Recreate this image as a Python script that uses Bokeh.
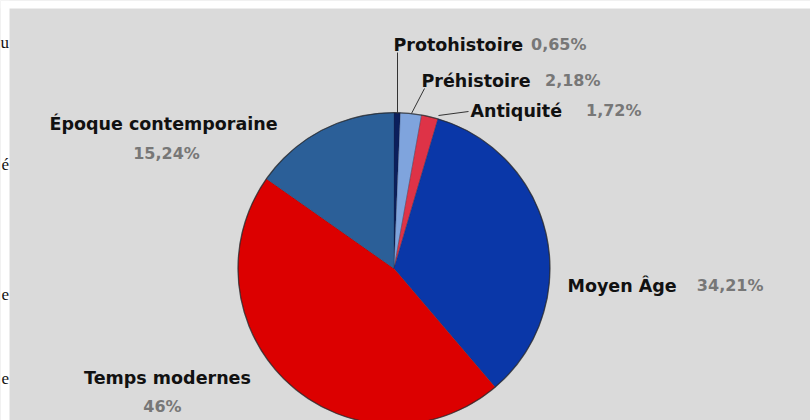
from bokeh.plotting import figure
from bokeh.models import Range1d, ColumnDataSource
from bokeh.core.properties import value
from bokeh.embed import file_html
from bokeh.resources import INLINE
import math

# ---- data ----
categories = ["Protohistoire", "Préhistoire", "Antiquité", "Moyen Âge", "Temps modernes", "Époque contemporaine"]
shares = [0.65, 2.18, 1.72, 34.21, 46.0, 15.24]
pct_labels = ["0,65%", "2,18%", "1,72%", "34,21%", "46%", "15,24%"]
colors = ["#0b1f5c", "#7fa4dd", "#de3347", "#0a37a8", "#dc0000", "#2b5f98"]

W, H = 810, 420
p = figure(width=W, height=H, output_backend="svg", toolbar_location=None,
           x_range=Range1d(0, W), y_range=Range1d(0, H), min_border=0)
p.axis.visible = False
p.grid.visible = False
p.outline_line_color = None
p.background_fill_color = "#dadada"
p.border_fill_color = "#dadada"

def Y(py):
    return H - py

# white page strips (left / top) as in the reference screenshot
p.quad(left=0, right=9, bottom=0, top=H, fill_color="white", line_color=None)
p.quad(left=0, right=W, bottom=Y(8), top=H, fill_color="white", line_color=None)
p.text(x=[8.5, 8.5, 8.5, 8.5], y=[Y(42), Y(164), Y(294), Y(378)], text=["u", "é", "e", "e"],
       text_font=value("Liberation Serif"), text_font_size="17px", text_color="#111111",
       text_align="right", text_baseline="middle")

cx, cy, r = 393.5, Y(268), 156
total = sum(shares)
starts, ends = [], []
cum = 0.0
for s in shares:
    a0 = math.pi / 2 - 2 * math.pi * cum / total
    cum += s
    a1 = math.pi / 2 - 2 * math.pi * cum / total
    starts.append(a0)
    ends.append(a1)

src = ColumnDataSource(dict(cat=categories, start=starts, end=ends, color=colors))
p.wedge(x=cx, y=cy, radius=r, start_angle="start", end_angle="end", direction="clock",
        fill_color="color", line_color="#1a2540", line_alpha=0.35, line_width=0.8, source=src)
p.circle(x=cx, y=cy, radius=r, fill_color=None, line_color="#2a2a2a", line_alpha=0.7, line_width=1.3)

# leader lines (page coordinates)
leaders = [((397, 52), (397, 113)), ((424, 88), (411, 113)), ((468, 111), (438, 115))]
for (x0, y0), (x1, y1) in leaders:
    p.line([x0, x1], [Y(y0), Y(y1)], line_color="#333333", line_width=1)

font = value("DejaVu Sans")
# name labels: (x, y, align)
name_pos = [(393, 44, "left"), (421, 80, "left"), (470, 110, "left"),
            (567, 285, "left"), (167, 377, "center"), (163, 123, "center")]
# percentage labels: (x, y, align)
pct_pos = [(586, 44, "right"), (600, 80, "right"), (641, 110, "right"),
           (763, 285, "right"), (162, 406, "center"), (166, 153, "center")]

for i, cat in enumerate(categories):
    nx, ny, na = name_pos[i]
    px_, py_, pa = pct_pos[i]
    p.text(x=[nx], y=[Y(ny)], text=[cat], text_font=font, text_font_style="bold",
           text_font_size="17.5px", text_color="#111111", text_align=na, text_baseline="middle")
    p.text(x=[px_], y=[Y(py_)], text=[pct_labels[i]], text_font=font, text_font_style="bold",
           text_font_size="16px", text_color="#777777", text_align=pa, text_baseline="middle")

open("out.html", "w").write(file_html(p, INLINE))
